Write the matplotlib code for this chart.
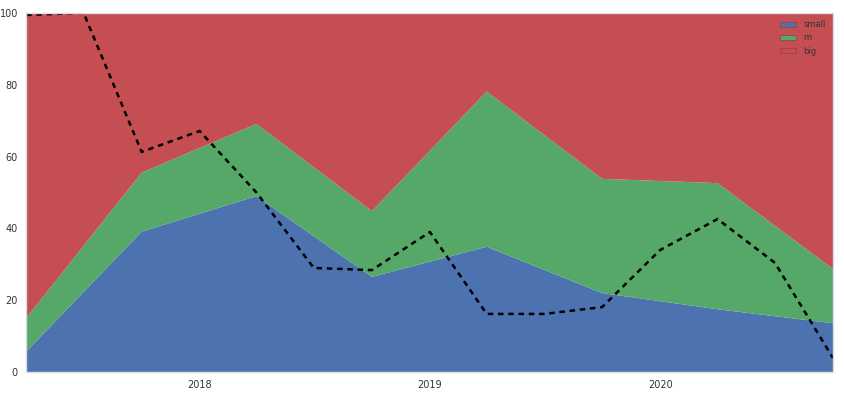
import matplotlib.pyplot as plt
import matplotlib.dates as mdates
import pandas as pd

# stacked shares, sampled every half year
area_dates = pd.to_datetime(["2017-04-01", "2017-10-01", "2018-04-01", "2018-10-01",
                             "2019-04-01", "2019-10-01", "2020-04-01", "2020-10-01"])
small = [5.7, 39.1, 49.0, 26.5, 34.9, 22.0, 17.5, 13.6]
m = [9.3, 16.4, 20.1, 18.3, 43.2, 31.8, 35.1, 15.1]
big = [100 - a - b for a, b in zip(small, m)]

# dashed line, quarterly
line_dates = pd.date_range("2017-04-01", "2020-10-01", freq="QS")
line_vals = [99.4, 100, 61.3, 67.1, 50.0, 29.0, 28.4, 39.0, 16.2, 16.2, 18.1, 34.0, 42.6, 30.4, 3.9]

colors = ["#4C72B0", "#55A868", "#C44E52"]

def main():
    fig = plt.figure(figsize=(8.44, 4.01), dpi=100)
    ax = fig.add_axes([0.031, 0.072, 0.956, 0.896])
    ax.stackplot(area_dates, small, m, big, labels=["small", "m", "big"], colors=colors)
    ax.plot(line_dates, line_vals, color="black", linestyle=(0, (2.2, 1.9)), linewidth=1.8)
    ax.set_xlim(area_dates[0], area_dates[-1])
    ax.set_ylim(0, 100)
    ax.xaxis.set_major_locator(mdates.YearLocator())
    ax.xaxis.set_major_formatter(mdates.DateFormatter("%Y"))
    ax.tick_params(length=0, labelsize=7, colors="#333333", pad=6)
    for s in ax.spines.values():
        s.set_color("#dcdce8")
        s.set_linewidth(1)
    leg = ax.legend(loc="upper right", fontsize=6, frameon=False, labelspacing=0.5,
                    handlelength=1.9, handleheight=0.6, handletextpad=0.85,
                    borderaxespad=0.5)
    for t in leg.get_texts():
        t.set_color("#333333")
    for h in leg.legend_handles:
        h.set_edgecolor("#a03a3e")
        h.set_linewidth(0.5)
    plt.savefig("out.png", dpi=100)

if __name__ == "__main__":
    main()
